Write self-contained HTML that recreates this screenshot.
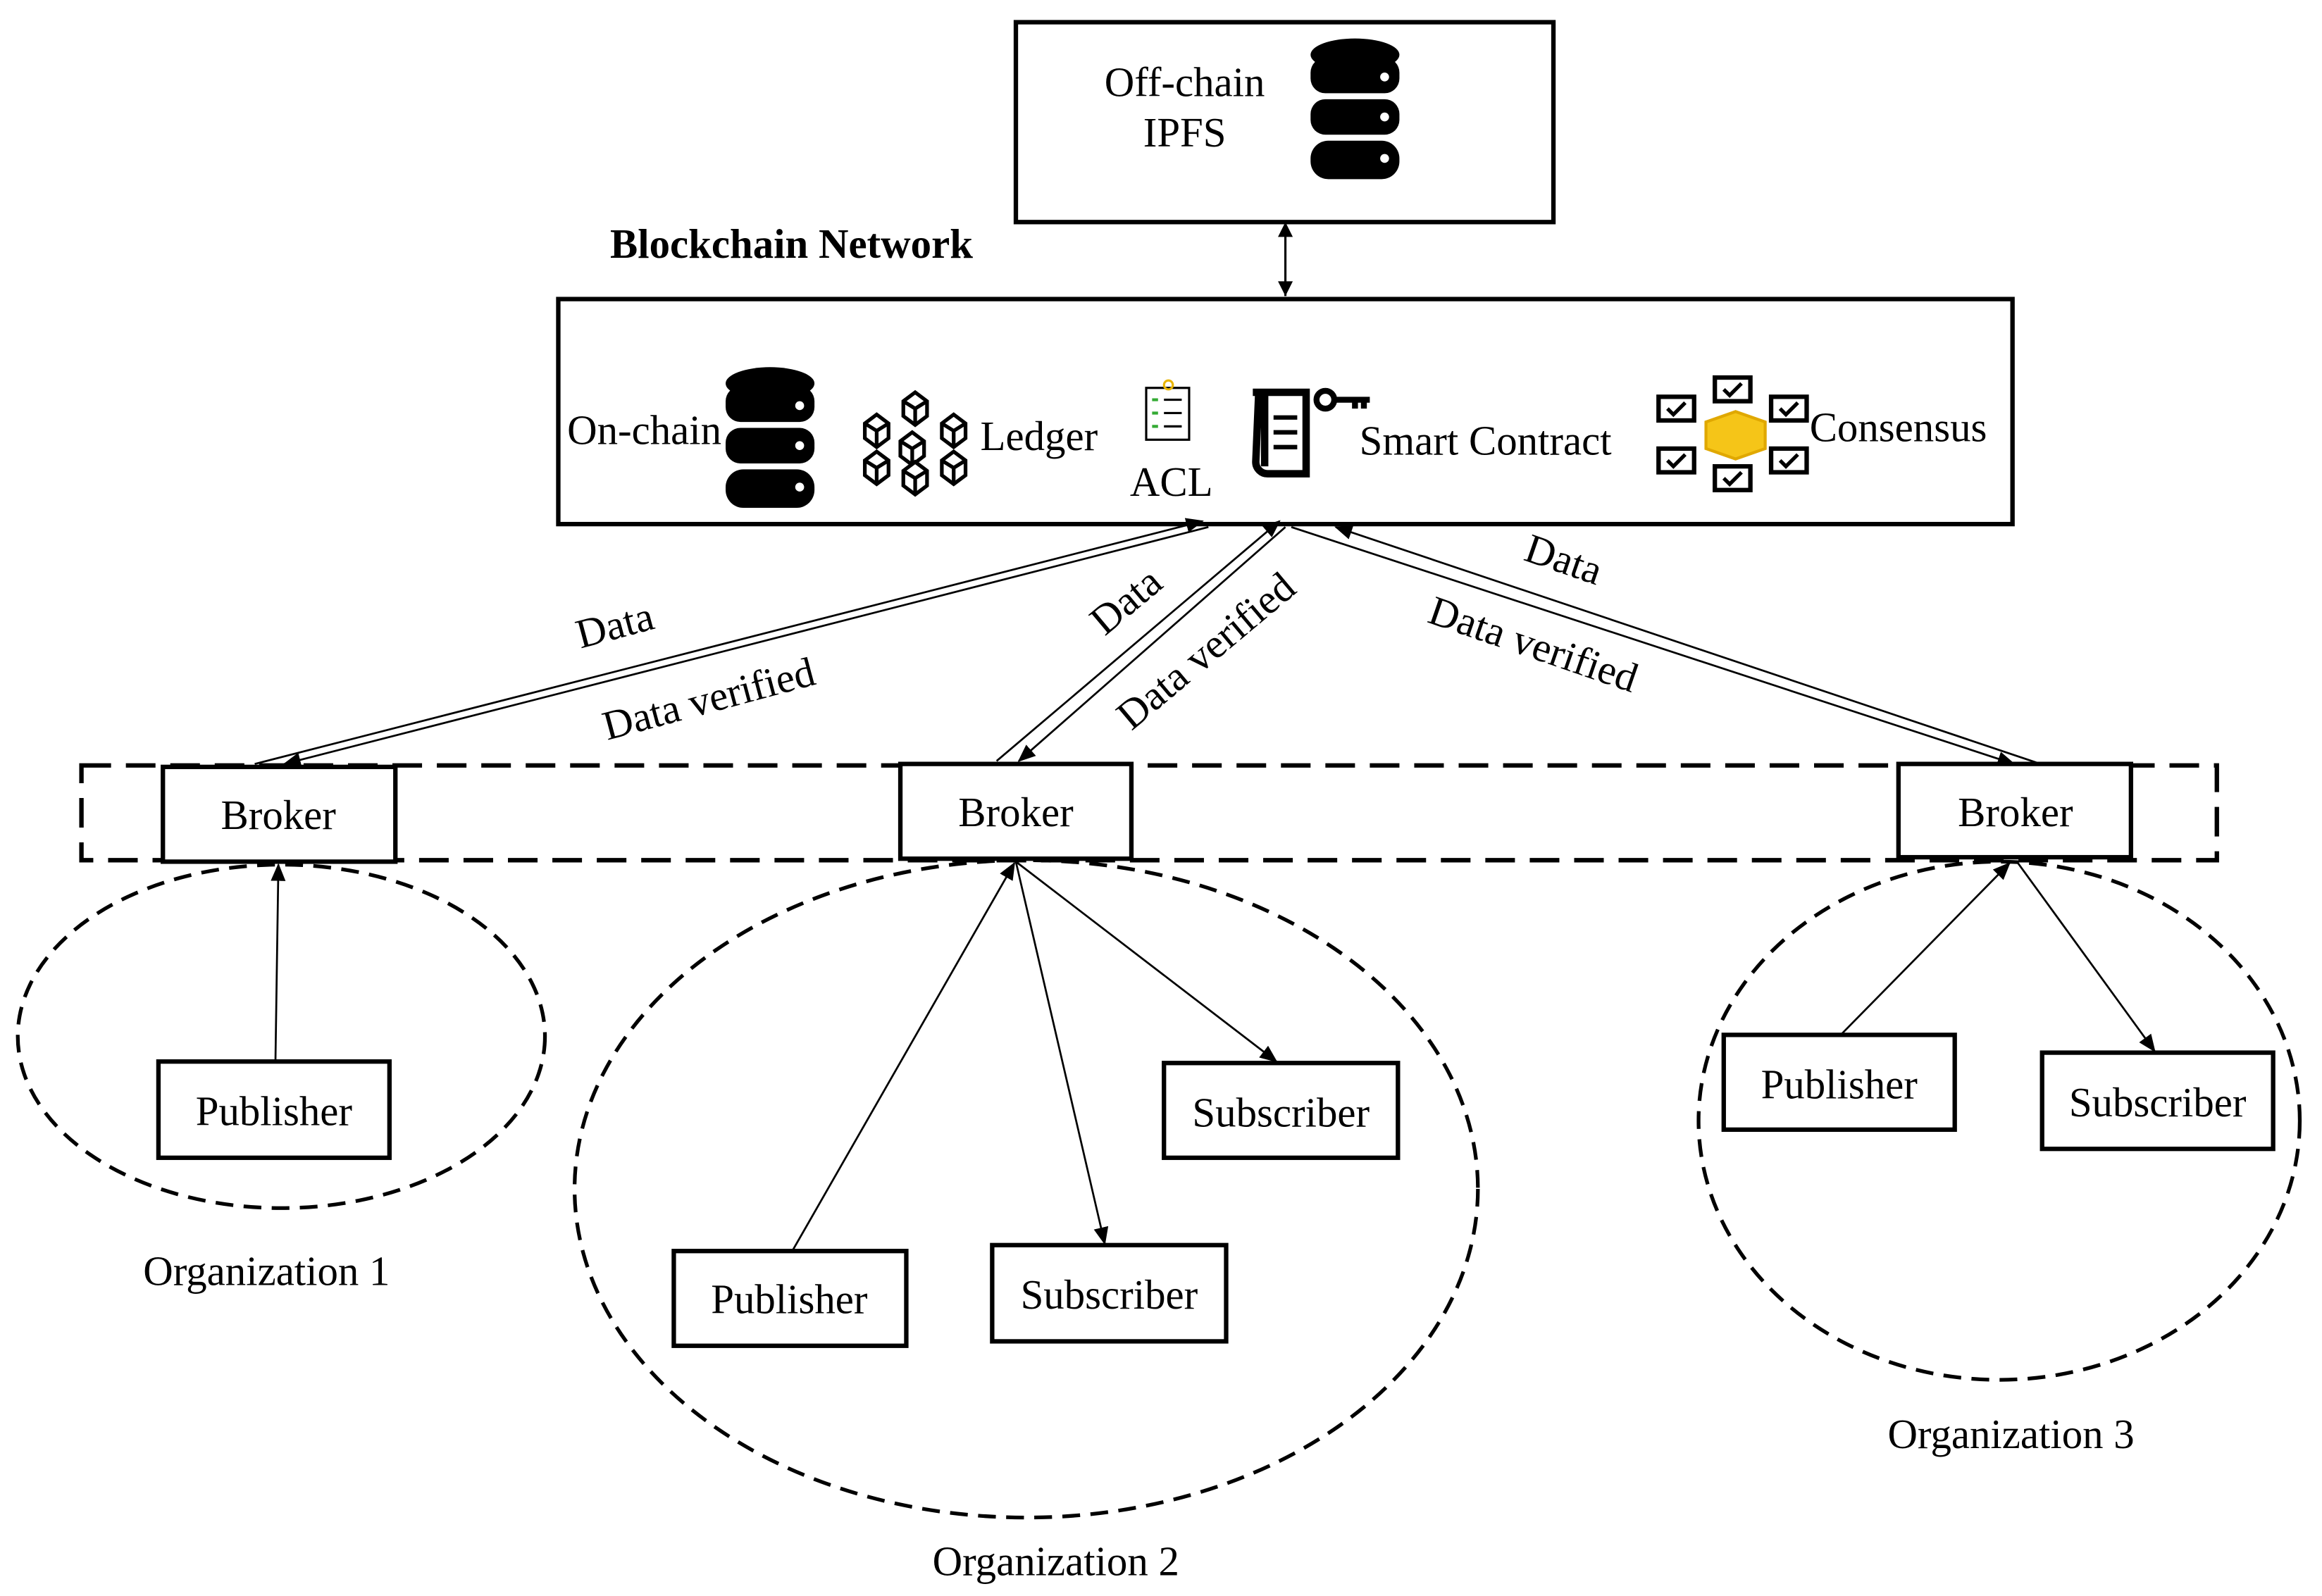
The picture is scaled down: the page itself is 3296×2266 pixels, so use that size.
<!DOCTYPE html>
<html><head><meta charset="utf-8"><style>
html,body{margin:0;padding:0;background:#fff;}
svg{display:block;}
text{font-family:"Liberation Serif",serif;fill:#000;}
</style></head><body>
<svg width="3296" height="2266" viewBox="0 0 1568 1078" xmlns="http://www.w3.org/2000/svg">
<defs>
<marker id="a" markerWidth="12" markerHeight="10" refX="11" refY="5" orient="auto" markerUnits="userSpaceOnUse"><path d="M0,0 L12,5 L0,10 z" fill="#000"/></marker>
<g id="db">
<ellipse cx="30" cy="12" rx="30" ry="11" fill="#000"/>
<rect x="0" y="14" width="60" height="24" rx="10" fill="#000"/>
<rect x="0" y="42" width="60" height="24" rx="10" fill="#000"/>
<rect x="0" y="70" width="60" height="26" rx="12" fill="#000"/>
<circle cx="50" cy="27" r="3" fill="#fff"/><circle cx="50" cy="54" r="3" fill="#fff"/><circle cx="50" cy="82" r="3" fill="#fff"/>
</g>
<g id="cb"><path d="M0,6 L8,0 L16,6 L16,16 L8,22 L0,16 Z M0,6 L8,11 L16,6 M8,11 L8,22" fill="#fff" stroke="#000" stroke-width="2.5"/></g>
<g id="chk"><rect x="0" y="0" width="24" height="16" fill="#fff" stroke="#000" stroke-width="3"/><path d="M6,8 L10,12 L18,4" fill="none" stroke="#000" stroke-width="2.5"/></g>
</defs>

<rect x="686" y="15" width="363" height="135" fill="#fff" stroke="#000" stroke-width="3"/>
<text x="800" y="65" font-size="28" text-anchor="middle">Off-chain</text>
<text x="800" y="99" font-size="28" text-anchor="middle">IPFS</text>
<use href="#db" x="885" y="25"/>

<text x="412" y="174" font-size="28" font-weight="bold">Blockchain Network</text>
<line x1="868" y1="150" x2="868" y2="200" stroke="#000" stroke-width="1.5"/>
<path d="M863,160 L868,150 L873,160 Z M863,190 L868,200 L873,190 Z" fill="#000"/>

<rect x="377" y="202" width="982" height="152" fill="#fff" stroke="#000" stroke-width="3"/>
<text x="383" y="300" font-size="28">On-chain</text>
<use href="#db" x="490" y="247"/>
<g>
<use href="#cb" x="610" y="265"/><use href="#cb" x="584" y="280"/><use href="#cb" x="636" y="280"/>
<use href="#cb" x="608" y="292"/><use href="#cb" x="584" y="305"/><use href="#cb" x="636" y="305"/><use href="#cb" x="610" y="312"/>
</g>
<text x="662" y="304" font-size="28">Ledger</text>
<rect x="774" y="262" width="29" height="35" fill="#fff" stroke="#000" stroke-width="1.5"/>
<circle cx="789" cy="260" r="3" fill="none" stroke="#e8b400" stroke-width="1.5"/>
<path d="M778,270h4M778,279h4M778,288h4" stroke="#3a3" stroke-width="2"/>
<path d="M786,270h12M786,279h12M786,288h12" stroke="#000" stroke-width="1.5"/>
<text x="763" y="335" font-size="28">ACL</text>
<path d="M850,265 h32 v55 h-26 a8,8 0 0 1 -8,-8 z M846,265 h8 v50" fill="#fff" stroke="#000" stroke-width="5"/>
<path d="M860,282h16M860,292h16M860,302h16" stroke="#000" stroke-width="3"/>
<circle cx="895" cy="270" r="6" fill="none" stroke="#000" stroke-width="4"/>
<path d="M901,270 h24 M915,270 v6 M921,270 v6" stroke="#000" stroke-width="4"/>
<text x="918" y="307" font-size="28">Smart Contract</text>
<use href="#chk" x="1158" y="255"/><use href="#chk" x="1120" y="268"/><use href="#chk" x="1196" y="268"/>
<use href="#chk" x="1120" y="303"/><use href="#chk" x="1196" y="303"/><use href="#chk" x="1158" y="315"/>
<path d="M1152,285 L1172,278 L1192,285 L1192,303 L1172,310 L1152,303 Z" fill="#f5c518" stroke="#e0a800" stroke-width="2"/>
<text x="1222" y="298" font-size="28">Consensus</text>

<rect x="55" y="517" width="1442" height="64" fill="none" stroke="#000" stroke-width="3" stroke-dasharray="20,10"/>

<g stroke="#000" stroke-width="1.3" fill="none">
<line x1="172" y1="516" x2="812" y2="352" marker-end="url(#a)"/>
<line x1="816" y1="356" x2="192" y2="516" marker-end="url(#a)"/>
<line x1="673" y1="514" x2="864" y2="352" marker-end="url(#a)"/>
<line x1="868" y1="356" x2="688" y2="514" marker-end="url(#a)"/>
<line x1="1378" y1="516" x2="902" y2="356" marker-end="url(#a)"/>
<line x1="872" y1="356" x2="1360" y2="516" marker-end="url(#a)"/>
</g>
<text font-size="28" transform="translate(392,438) rotate(-15)">Data</text>
<text font-size="28" transform="translate(410,500) rotate(-15)">Data verified</text>
<text font-size="28" transform="translate(746,430) rotate(-40)">Data</text>
<text font-size="28" transform="translate(764,494) rotate(-40)">Data verified</text>
<text font-size="28" transform="translate(1028,378) rotate(19)">Data</text>
<text font-size="28" transform="translate(963,420) rotate(19)">Data verified</text>

<g fill="none" stroke="#000" stroke-width="2.5" stroke-dasharray="12,7">
<ellipse cx="190" cy="700" rx="178" ry="116"/>
<ellipse cx="693" cy="803" rx="305" ry="222"/>
<ellipse cx="1350" cy="757" rx="203" ry="175"/>
</g>

<g fill="#fff" stroke="#000" stroke-width="3">
<rect x="110" y="518" width="157" height="64"/>
<rect x="608" y="516" width="156" height="64"/>
<rect x="1282" y="516" width="157" height="63"/>
<rect x="107" y="717" width="156" height="65"/>
<rect x="455" y="845" width="157" height="64"/>
<rect x="670" y="841" width="158" height="65"/>
<rect x="786" y="718" width="158" height="64"/>
<rect x="1164" y="699" width="156" height="64"/>
<rect x="1379" y="711" width="156" height="65"/>
</g>
<g font-size="28" text-anchor="middle">
<text x="188" y="560">Broker</text>
<text x="686" y="558">Broker</text>
<text x="1361" y="558">Broker</text>
<text x="185" y="760">Publisher</text>
<text x="533" y="887">Publisher</text>
<text x="749" y="884">Subscriber</text>
<text x="865" y="761">Subscriber</text>
<text x="1242" y="742">Publisher</text>
<text x="1457" y="754">Subscriber</text>
<text x="180" y="868">Organization 1</text>
<text x="713" y="1064">Organization 2</text>
<text x="1358" y="978">Organization 3</text>
</g>

<g stroke="#000" stroke-width="1.3" fill="none">
<line x1="186" y1="717" x2="188" y2="584" marker-end="url(#a)"/>
<line x1="535" y1="845" x2="685" y2="583" marker-end="url(#a)"/>
<line x1="686" y1="582" x2="746" y2="840" marker-end="url(#a)"/>
<line x1="686" y1="582" x2="862" y2="717" marker-end="url(#a)"/>
<line x1="1243" y1="699" x2="1357" y2="583" marker-end="url(#a)"/>
<line x1="1362" y1="582" x2="1455" y2="710" marker-end="url(#a)"/>
</g>
</svg>
</body></html>
